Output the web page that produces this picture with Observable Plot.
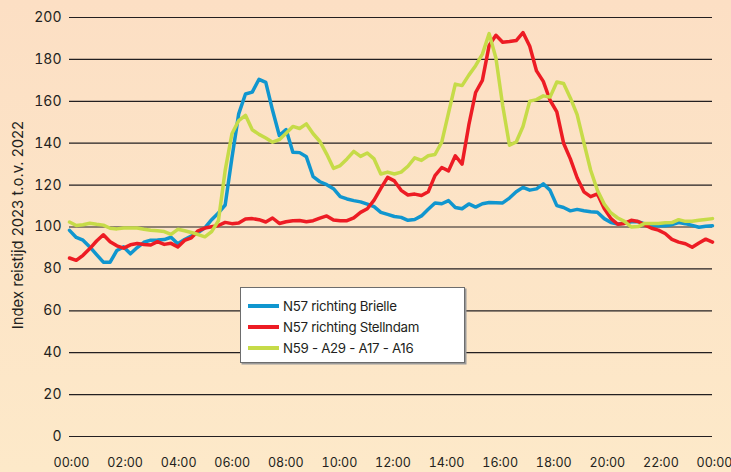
<!DOCTYPE html>
<html>
<head>
<meta charset="utf-8">
<script src="https://cdn.jsdelivr.net/npm/d3@7"></script>
<script src="https://cdn.jsdelivr.net/npm/@observablehq/plot@0.6"></script>
<style>
html, body { margin: 0; padding: 0; }
body {
  width: 731px; height: 472px; overflow: hidden;
  background: linear-gradient(to bottom, #fcdfc4 0%, #fde9c9 100%);
  font-family: Inter, "Noto Sans", sans-serif;
}
#wrap { position: relative; width: 731px; height: 472px; }
#wrap svg { position: absolute; left: 0; top: 0; }
#legend {
  position: absolute; left: 240px; top: 287px; width: 225px; height: 76px;
  background: #fff; border: 1px solid #6d6d6d; box-shadow: 1.5px 1.5px 0 #9a9a9a;
  box-sizing: border-box;
}
.row { position: absolute; left: 0; height: 20px; width: 100%; }
.sw { position: absolute; left: 7px; top: 8px; width: 31px; height: 3.5px; }
.lb { position: absolute; left: 42px; top: 0; line-height: 20px; font-size: 13.3px; color: #231f20; letter-spacing: -0.3px; white-space: nowrap; }
</style>
</head>
<body>
<div id="wrap"></div>
<script>
// Kwartierwaarden 00:00 - 23:45 (96 punten)
const brielle = [98.4,95,93.7,90.5,86.8,83.2,83.2,88.8,90.5,87.2,90.2,92.7,93.7,93.8,94,95.1,
  92,94,95.7,97.3,99.6,103.5,106.7,110.5,133,154,163.5,164.4,170.5,169,155.7,143.7,
  146.5,135.7,135.5,133.5,124,121.6,120.2,118.3,114.5,113.4,112.6,112,110.9,109.7,107,106,
  105,104.6,103.2,103.6,105.3,108.5,111.5,111.1,112.6,109.3,108.7,111,109.5,111.1,111.7,111.6,
  111.5,113.8,116.8,118.9,117.6,118.2,120.6,117.5,110.2,109.3,107.7,108.4,107.8,107.3,107,104,
  102.1,101.4,101.8,102.5,102.6,101.5,101,100.6,100.6,101.1,102.1,101.6,100.8,99.9,100.4,100.6];

const stellendam = [85.2,84.1,86.5,89.7,93.3,96.3,93,91,89.9,91.5,92.1,91.7,91.4,93,91.7,92.2,
  90.5,93.6,94.8,98.2,99.5,100.1,100.7,102.2,101.6,101.9,103.8,104,103.5,102.4,104.3,101.7,
  102.5,103,103.1,102.5,103,104.2,105.3,103.3,103,103,104.4,107,108.7,112.8,118.4,123.7,
  122,117.5,115.3,115.7,115,116.8,124.5,128.4,126.8,134,130,148.7,164.2,170,
  186.7,191.5,188.2,188.5,189,192.8,186.3,174.5,169.5,160.5,155,140,132.5,123.5,116.8,114.5,
  115.8,108.8,104,101.3,101.7,103.2,102.6,101,99.4,98.5,96.9,94.1,92.8,92,90.3,92.4,94.2,92.8];

const n59 = [102.4,100.7,101.1,101.8,101.3,100.9,99.4,99.1,99.5,99.5,99.5,98.9,98.4,98.2,97.8,96.5,
  98.9,98.2,97.4,96.4,95.3,97.8,103,127,144.5,150.8,153.3,146.4,144.2,142.5,140.5,141.7,
  144.8,148,147,149.2,144.5,140.8,134.8,128,129.3,132.5,136.1,133.7,135.3,132.5,125.3,126.2,
  125.3,126.2,129,133,131.8,134,134.6,140.5,154.5,168.2,167.5,172.5,177,182.5,
  192.3,180.7,158,139,140.6,148,160.1,160.8,162.6,162,169.2,168.5,161.6,153.6,140.2,127.1,
  117.5,111,106.7,104.3,102.7,100,100.2,101.7,101.7,101.7,102,102.1,103.5,102.7,102.7,103.2,103.6,104];

const seriesNames = ["N57 richting Brielle", "N57 richting Stellndam", "N59 - A29 - A17 - A16"];
const seriesColors = ["#1096cf", "#ed1c24", "#c6db48"];
const xTickLabels = ["00:00","02:00","04:00","06:00","08:00","10:00","12:00","14:00","16:00","18:00","20:00","22:00","00:00"];
const yTicks = [0,20,40,60,80,100,120,140,160,180,200];
const yLabel = "Index reistijd 2023 t.o.v. 2022";

const lastIdx = brielle.length - 1;
const xTickPos = xTickLabels.map((_, k) => k * lastIdx / (xTickLabels.length - 1));
const allSeries = [brielle, stellendam, n59];

const chart = Plot.plot({
  width: 731, height: 472,
  marginLeft: 69, marginRight: 19, marginTop: 17, marginBottom: 36,
  style: { background: "transparent", fontFamily: "Inter, 'Noto Sans', sans-serif", color: "#231f20", overflow: "visible" },
  x: { domain: [0, lastIdx] },
  y: { domain: [0, 200] },
  marks: [
    Plot.ruleY(yTicks, { stroke: "#231f20", strokeWidth: 1.2 }),
    Plot.axisY({ ticks: yTicks, tickSize: 0, tickPadding: 8, fontSize: 14, label: null }),
    Plot.axisX({ ticks: xTickPos, tickFormat: (d, i) => xTickLabels[i], tickSize: 0, tickPadding: 22, fontSize: 12.5, dx: 2, label: null }),
    Plot.text([yLabel], { frameAnchor: "left", textAnchor: "middle", rotate: -90, dx: -51, dy: -2, fontSize: 14.8, fill: "#231f20", text: d => d }),
    ...allSeries.map((s, k) => Plot.lineY(s, { stroke: seriesColors[k], strokeWidth: 3.5, strokeLinejoin: "round" }))
  ]
});
const wrap = document.getElementById("wrap");
wrap.appendChild(chart);

const legend = document.createElement("div");
legend.id = "legend";
seriesNames.forEach((name, k) => {
  const row = document.createElement("div");
  row.className = "row";
  row.style.top = (8 + k * 21) + "px";
  const sw = document.createElement("div");
  sw.className = "sw"; sw.style.background = seriesColors[k];
  const lb = document.createElement("div");
  lb.className = "lb"; lb.textContent = name;
  row.appendChild(sw); row.appendChild(lb);
  legend.appendChild(row);
});
wrap.appendChild(legend);
</script>
</body>
</html>
